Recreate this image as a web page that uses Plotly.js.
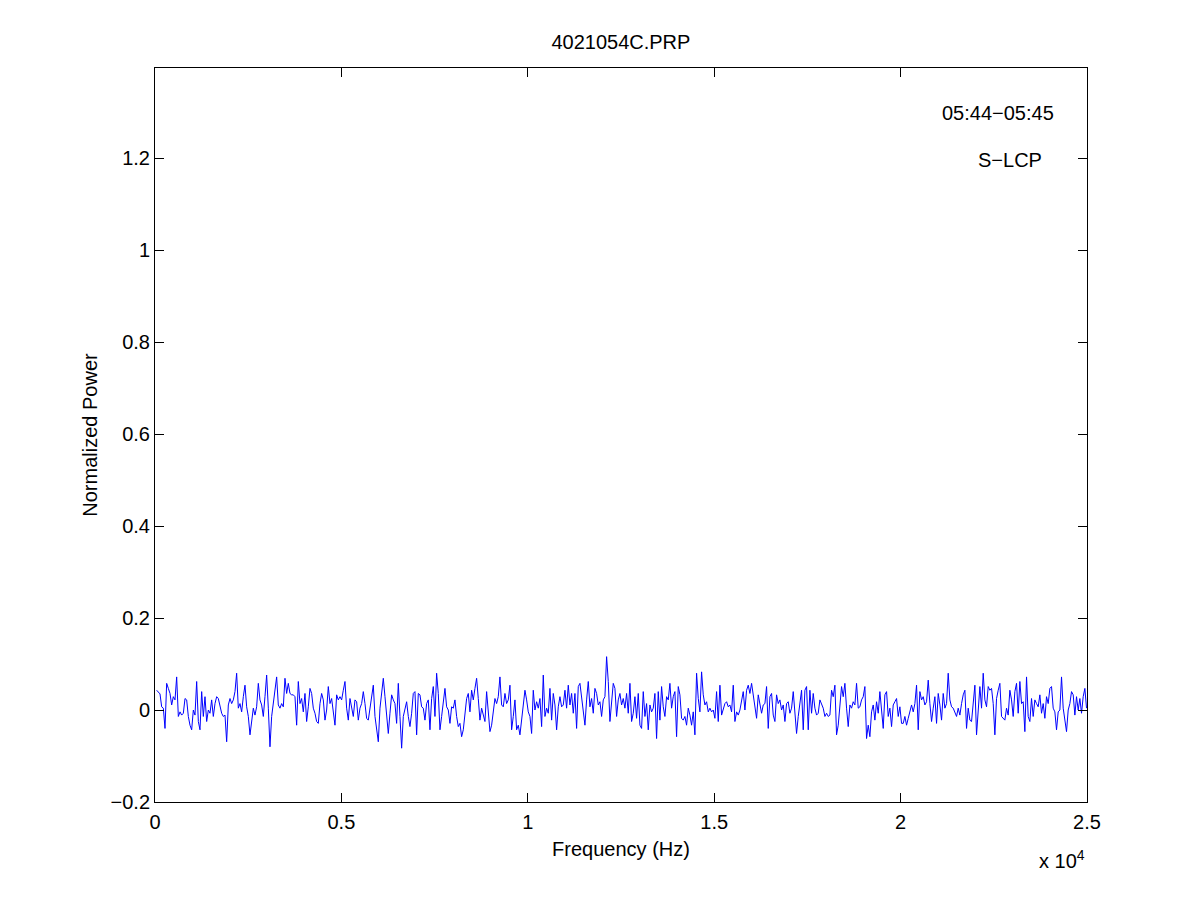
<!DOCTYPE html>
<html>
<head>
<meta charset="utf-8">
<script src="https://cdn.plot.ly/plotly-3.0.1.min.js"></script>
<style>
  html, body { margin: 0; padding: 0; background: #fff; }
  #prp-plot { width: 1201px; height: 901px; }
</style>
</head>
<body>
<div id="prp-plot"></div>
<script>
// normalized power spectrum in six chunks (low -> high freq)
const powerSeg1 = [
  0.043, 0.040, 0.035, 0.007, 0.004, -0.040, 0.058, 0.047, 0.036, 0.011,
  0.029, 0.022, 0.072, -0.014, -0.004, -0.011, -0.007, 0.025, 0.022, -0.014,
  -0.033, -0.043, 0, -0.011, 0.062, -0.025, -0.043, 0.040, -0.014, 0.029,
  -0.025, 0, -0.007, 0.022, -0.014, 0.014, 0.029, 0.025, 0.011, -0.007,
  -0.014, -0.011, -0.069, 0.011, 0.025, 0.014, 0.022, 0.040, 0.080, 0.004,
  0.014, -0.004, 0.029, 0.054, 0.007, -0.014, -0.054, -0.029, 0.004, -0.011,
  0.007, 0.058, 0.022, 0.011, -0.014, 0.029, 0.076, 0.004, -0.080, -0.014,
  0.014, 0.040, 0.072, 0.011, 0.004, 0.014, 0.007, 0.069, 0.036, 0.058,
  0.036, 0.033, 0.033, 0.029, -0.033, 0.062, 0.014, 0.025, -0.004
];
const powerSeg2 = [
  0.036, -0.025, 0.007, 0.047, 0.036, 0.004, -0.007, -0.025, -0.029, 0.014,
  0.036, 0.022, -0.022, 0, 0.051, 0.014, 0.025, -0.004, -0.033, 0.033,
  0.022, 0.029, 0.022, 0.043, 0.062, 0.004, -0.022, 0.025, 0, -0.014,
  0.022, 0.018, -0.022, 0.004, 0.014, 0.040, 0.014, -0.018, -0.022, 0.004,
  0.029, 0.054, -0.014, -0.043, -0.069, 0.004, 0.040, 0.069, 0.029, -0.022,
  -0.051, -0.007, 0.033, 0.022, 0.014, -0.029, 0.058, -0.014, -0.083, -0.014,
  0, 0.018, -0.014, -0.036, -0.007, 0.036, 0.040, -0.054, 0.036, 0.033,
  0.007, 0.004, -0.022, 0.014, 0.022, -0.043, 0.025, 0.051, -0.014, 0.080,
  0.036, -0.043, -0.014, 0.014, 0.047, 0.007, 0, -0.029, 0.007, 0.004,
  0.022, -0.014, -0.036
];
const powerSeg3 = [
  -0.029, -0.058, -0.043, 0, 0.025, 0.036, -0.004, 0.043, 0.022, 0.047,
  0.069, 0.025, -0.022, 0.004, -0.011, -0.025, 0.040, -0.014, -0.047, -0.033,
  -0.004, 0.025, 0.014, 0.029, 0.072, 0.011, 0.007, 0.036, 0.014, 0.022,
  0.054, -0.043, -0.014, 0.022, -0.043, -0.033, -0.054, -0.025, 0.011, 0.043,
  0.022, -0.004, -0.014, -0.051, 0.043, 0, 0.018, 0.004, 0.025, -0.036,
  0.076, -0.014, 0.004, -0.007, 0.047, -0.022, 0.036, 0.011, -0.043, 0.007,
  0.029, 0.007, 0.011, 0.043, 0.004, 0.054, 0.011, 0.036, -0.007, 0.036,
  -0.040, 0.051, 0.058, 0.029, -0.011, -0.033, 0.022, 0.062, 0.007, 0.025,
  -0.007, 0.047, 0.036, 0.011, 0.018, -0.014, 0.022, 0.029, 0.116, 0.062,
  -0.025, 0.025, 0.058
];
const powerSeg4 = [
  0.047, -0.014, 0.022, 0.036, 0.011, 0.025, 0.004, 0.036, -0.007, 0.058,
  -0.025, -0.007, 0.029, -0.018, 0.036, -0.033, -0.040, 0.040, -0.014, 0.014,
  -0.043, 0.011, -0.004, 0.004, 0.036, -0.062, 0.040, -0.022, 0.051, 0.007,
  -0.014, 0.029, 0.022, 0.058, 0.004, 0.029, 0.040, -0.058, 0.051, 0.033,
  -0.018, -0.022, -0.014, -0.033, 0.004, -0.011, -0.033, -0.004, -0.054, 0.080,
  0.025, -0.004, 0.083, 0.033, 0.011, 0.018, -0.004, 0.004, -0.004, 0,
  -0.018, 0.040, -0.025, 0.054, -0.011, 0.004, 0.014, 0.018, 0.007, 0.011,
  -0.004, 0.054, -0.025, -0.004, -0.011, 0, 0.022, 0.040, 0, 0.043,
  0.054, 0.036, 0.058, 0.029, 0.004, -0.018, 0.033, 0.011, -0.007, 0.011,
  0.014, 0.051, -0.040
];
const powerSeg5 = [
  0.029, 0.036, -0.011, -0.025, 0.033, 0.014, 0.022, 0, 0.011, -0.025,
  0.014, 0.018, -0.007, 0.004, 0.040, -0.018, -0.051, -0.014, 0.014, 0.043,
  -0.043, 0.043, 0.051, -0.043, 0.043, -0.007, 0.036, 0.004, -0.011, -0.007,
  0.022, 0.011, 0.004, -0.014, -0.007, -0.014, -0.011, 0.043, 0.029, 0.054,
  -0.054, -0.033, 0.018, 0.051, 0.029, 0.058, 0.004, -0.036, 0.011, 0.004,
  0.018, 0.011, 0.058, 0.004, 0.007, 0.022, 0.029, 0.051, -0.062, -0.033,
  -0.058, -0.004, 0.011, -0.022, 0.018, -0.007, 0.040, 0.004, -0.040, 0.033,
  0.040, -0.014, 0.004, -0.036, 0.011, 0.018, 0.025, -0.014, 0.007, -0.029,
  -0.029, -0.014, -0.033, -0.018, -0.004, 0.011, -0.004, 0.014, 0.054, -0.043,
  0.040, 0.022, 0.029
];
const powerSeg6 = [
  0.011, 0.018, 0.065, 0.014, -0.025, 0.004, 0.029, -0.029, 0.036, 0.011,
  -0.022, 0.036, 0.004, 0.014, 0.080, 0.022, 0.007, 0.004, -0.007, -0.014,
  0.004, -0.011, 0.014, 0.033, 0.043, -0.040, 0.004, -0.022, -0.025, 0.014,
  0.054, -0.054, 0.011, 0.051, 0.004, 0.080, 0.022, 0.007, 0.051, 0.043,
  0.047, 0.014, -0.054, 0.025, 0.043, 0.058, -0.014, -0.018, -0.022, 0.004,
  -0.011, 0.043, 0.022, -0.014, 0.040, 0.058, -0.007, 0.062, 0.014, 0.018,
  -0.047, 0.072, -0.014, -0.025, 0.025, -0.014, 0.022, 0.014, 0.007, 0.033,
  -0.007, 0.014, -0.018, 0.029, 0.014, 0.047, 0.051, 0.004, -0.004, -0.043,
  -0.004, 0, 0.072, 0.004, -0.022, -0.047, 0, 0.014, 0.040, 0.033,
  -0.011, 0.029, 0, 0.025, -0.007, 0.029, 0.047, 0.004
];

const power = [].concat(powerSeg1, powerSeg2, powerSeg3, powerSeg4, powerSeg5, powerSeg6);

const freqTicks = [0, 5000, 10000, 15000, 20000, 25000];
const freqTickText = ['0', '0.5', '1', '1.5', '2', '2.5'];
const powerTicks = [-0.2, 0, 0.2, 0.4, 0.6, 0.8, 1, 1.2];
const powerTickText = ['\u22120.2', '0', '0.2', '0.4', '0.6', '0.8', '1', '1.2'];

const fnt = { family: 'Liberation Sans, Arial, Helvetica, sans-serif', size: 20, color: '#000' };

var trace1 = {
    y: power,
    x0: 44.7,
    dx: 44.7,
    type: 'scatter',
    mode: 'lines',
    line: { color: '#0000ff', width: 1 },
    hoverinfo: 'skip'
};

var axisStyle = {
    showline: true,
    linecolor: '#000',
    linewidth: 1,
    mirror: 'ticks',
    ticks: 'inside',
    ticklen: 9,
    tickcolor: '#000',
    showgrid: false,
    zeroline: false,
    tickfont: fnt
};

var layout = {
    width: 1201,
    height: 901,
    margin: { l: 155, r: 114, t: 68, b: 99 },
    paper_bgcolor: '#fff',
    plot_bgcolor: '#fff',
    showlegend: false,
    font: fnt,
    title: {
        text: '4021054C.PRP',
        font: fnt,
        x: 0.517, xanchor: 'center',
        y: 0.953, yanchor: 'middle'
    },
    xaxis: Object.assign({}, axisStyle, {
        range: [0, 25000],
        tickvals: freqTicks,
        ticktext: freqTickText,
        ticklabelstandoff: 2,
        title: { text: 'Frequency (Hz)', font: fnt, standoff: 9 }
    }),
    yaxis: Object.assign({}, axisStyle, {
        range: [-0.2, 1.396],
        tickvals: powerTicks,
        ticktext: powerTickText,
        title: { text: 'Normalized Power', font: fnt, standoff: 7 }
    }),
    annotations: [
        { text: '05:44\u221205:45', x: 22613, y: 1.298, xref: 'x', yref: 'y',
          showarrow: false, font: fnt },
        { text: 'S\u2212LCP', x: 22935, y: 1.196, xref: 'x', yref: 'y',
          showarrow: false, font: fnt },
        { text: 'x 10<sup>4</sup>', x: 0.973, y: -0.079, xref: 'paper', yref: 'paper',
          xanchor: 'center', yanchor: 'middle', showarrow: false, font: fnt }
    ]
};

Plotly.newPlot('prp-plot', [trace1], layout, { staticPlot: true, displayModeBar: false });
</script>
</body>
</html>
